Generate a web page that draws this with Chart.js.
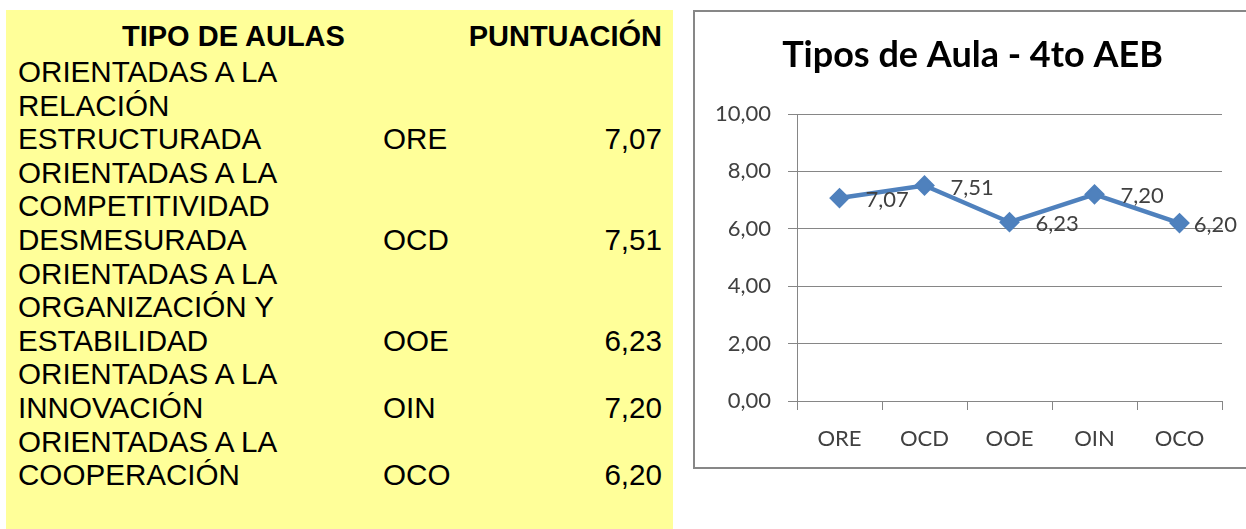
<!DOCTYPE html>
<html>
<head>
<meta charset="utf-8">
<script src="https://cdn.jsdelivr.net/npm/chart.js@4.4.0/dist/chart.umd.min.js"></script>
<style>
  html, body { margin: 0; padding: 0; overflow: hidden; background: #fff; }
  #tabla {
    position: absolute; left: 6px; top: 10px; width: 667px; height: 540px;
    background: #ffff99; font-family: "Liberation Sans", Arial, sans-serif;
    font-size: 29.6px; color: #000;
  }
  #cabecera { position: absolute; top: 7.5px; left: 0; width: 100%; height: 36px; line-height: 36px; font-weight: bold; font-size: 29px; }
  #cabecera .tipo { position: absolute; left: 116px; }
  #cabecera .punt { position: absolute; right: 11px; }
  #filas { position: absolute; top: 45px; left: 12px; }
  .fila { display: grid; grid-template-columns: 365px 200px 79px; align-items: end; line-height: 33.6px; }
  .fila .valor { text-align: right; }
  #grafico {
    position: absolute; left: 693px; top: 10px; width: 580px; height: 455px;
    border: 2px solid #878787; background: #fff;
  }
</style>
</head>
<body>
<div id="tabla">
  <div id="cabecera"><span class="tipo">TIPO DE AULAS</span><span class="punt">PUNTUACIÓN</span></div>
  <div id="filas"></div>
</div>
<div id="grafico"><canvas id="lineChart"></canvas></div>
<script>
// datos de la tabla / grafico
const tiposAula = [
  'ORIENTADAS A LA RELACIÓN ESTRUCTURADA',
  'ORIENTADAS A LA COMPETITIVIDAD DESMESURADA',
  'ORIENTADAS A LA ORGANIZACIÓN Y ESTABILIDAD',
  'ORIENTADAS A LA INNOVACIÓN',
  'ORIENTADAS A LA COOPERACIÓN'
];
const categorias = ['ORE', 'OCD', 'OOE', 'OIN', 'OCO'];
const puntuaciones = [7.07, 7.51, 6.23, 7.20, 6.20];
const ejeY = { min: 0, max: 10, paso: 2 };
const tituloGrafico = 'Tipos de Aula - 4to AEB';

function coma(v) {
  return v.toFixed(2).replace('.', ',');
}

// filas de la tabla amarilla
var filas = document.getElementById('filas');
tiposAula.forEach(function (nombre, i) {
  var row = document.createElement('div');
  row.className = 'fila';
  row.innerHTML = '<span>' + nombre + '</span><span>' + categorias[i] +
    '</span><span class="valor">' + coma(puntuaciones[i]) + '</span>';
  filas.appendChild(row);
});

// etiquetas de datos a la derecha de cada punto
const etiquetasPlugin = {
  id: 'etiquetas',
  afterDatasetsDraw(chart) {
    var ctx = chart.ctx;
    var meta = chart.getDatasetMeta(0);
    var limite = chart.chartArea.right + 15;
    ctx.save();
    ctx.font = '22px Lato';
    ctx.fillStyle = '#404040';
    ctx.textAlign = 'left';
    ctx.textBaseline = 'middle';
    meta.data.forEach(function (pt, i) {
      var txt = coma(puntuaciones[i]);
      var w = ctx.measureText(txt).width;
      var x = pt.x + 26;
      if (x + w > limite) x = limite - w;
      ctx.fillText(txt, x, pt.y + 2);
    });
    ctx.restore();
  }
};

var ctx = document.getElementById('lineChart').getContext('2d');
var myChart = new Chart(ctx, {
  type: 'line',
  data: {
    labels: categorias,
    datasets: [{
      label: 'Puntuación',
      data: puntuaciones,
      borderColor: '#4f81bd',
      backgroundColor: '#4f81bd',
      borderWidth: 4.5,
      pointStyle: 'rectRot',
      pointRadius: 9,
      pointBorderWidth: 2,
      pointBackgroundColor: '#4f81bd',
      pointBorderColor: '#4f81bd',
      tension: 0
    }]
  },
  options: {
    responsive: true,
    maintainAspectRatio: false,
    animation: false,
    layout: { padding: { left: 0, right: 25, top: 0, bottom: 0 } },
    scales: {
      x: {
        offset: true,
        grid: { offset: true, drawOnChartArea: false, drawTicks: true, tickLength: 9, color: '#868686' },
        border: { display: true, color: '#868686' },
        ticks: { color: '#404040', font: { family: 'Lato', size: 22 }, padding: 16, maxRotation: 0, autoSkip: false },
        afterFit: function (s) { s.height = 66; }
      },
      y: {
        min: ejeY.min,
        max: ejeY.max,
        grid: { color: '#868686', tickLength: 9 },
        border: { display: true, color: '#868686' },
        ticks: {
          stepSize: ejeY.paso,
          color: '#404040',
          font: { family: 'Lato', size: 22 },
          padding: 17,
          callback: function (v) { return coma(v); }
        },
        afterFit: function (s) { s.width = 102; }
      },
      // margen derecho vacio para que el titulo quede centrado como en el original
      margen: {
        position: 'right',
        min: ejeY.min,
        max: ejeY.max,
        grid: { display: false },
        border: { display: false },
        ticks: { display: false },
        afterFit: function (s) { s.width = 28; }
      }
    },
    plugins: {
      legend: { display: false },
      tooltip: { enabled: false },
      title: {
        display: true,
        text: tituloGrafico,
        color: '#000',
        font: { family: 'Lato', size: 36, weight: 'bold', lineHeight: 1.2 },
        padding: { top: 21.4, bottom: 37.4 }
      }
    }
  },
  plugins: [etiquetasPlugin]
});
</script>
</body>
</html>
